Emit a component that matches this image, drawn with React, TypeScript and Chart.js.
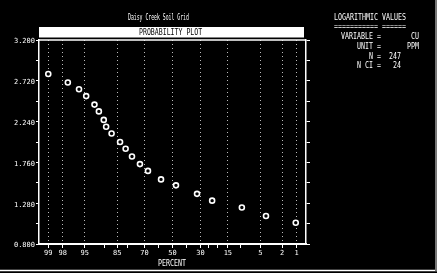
import React, { useEffect, useRef } from "react";
import { Chart, registerables } from "chart.js";

Chart.register(...registerables);

// ---- data ----
const cumulativePercent = [99.0, 97.5, 96.0, 94.7, 92.8, 91.6, 90.1, 89.3, 87.3, 83.7, 81.0, 77.6, 72.9, 67.7, 58.5, 47.4, 32.3, 22.9, 9.7, 4.0, 1.05];
const logValues = [2.8, 2.7, 2.62, 2.54, 2.44, 2.36, 2.26, 2.18, 2.1, 2.0, 1.92, 1.83, 1.74, 1.66, 1.56, 1.49, 1.39, 1.31, 1.23, 1.13, 1.05];

const percentTickLabels = [99, 98, 95, 85, 70, 50, 30, 15, 5, 2, 1];
const percentMinorTicks = [90, 80, 60, 40, 25, 20, 10];
const yTickValues = [0.8, 1.04, 1.28, 1.52, 1.76, 2.0, 2.24, 2.48, 2.72, 2.96, 3.2];
const yTickLabels = [0.8, 1.28, 1.76, 2.24, 2.72, 3.2];

const titleText = "Daisy Creek Soil Grid";
const bannerText = "PROBABILITY PLOT";
const xTitle = "PERCENT";

// inverse standard normal (probability scale transform)
function probit(p: number): number {
  const a = [-3.969683028665376e1, 2.209460984245205e2, -2.759285104469687e2, 1.38357751867269e2, -3.066479806614716e1, 2.506628277459239];
  const b = [-5.447609879822406e1, 1.615858368580409e2, -1.556989798598866e2, 6.680131188771972e1, -1.328068155288572e1];
  const c = [-7.784894002430293e-3, -3.223964580411365e-1, -2.400758277161838, -2.549732539343734, 4.374664141464968, 2.938163982698783];
  const d = [7.784695709041462e-3, 3.224671290700398e-1, 2.445134137142996, 3.754408661907416];
  const pl = 0.02425;
  const ph = 1 - pl;
  let q: number, r: number;
  if (p < pl) {
    q = Math.sqrt(-2 * Math.log(p));
    return (((((c[0] * q + c[1]) * q + c[2]) * q + c[3]) * q + c[4]) * q + c[5]) / ((((d[0] * q + d[1]) * q + d[2]) * q + d[3]) * q + 1);
  }
  if (p <= ph) {
    q = p - 0.5;
    r = q * q;
    return ((((((a[0] * r + a[1]) * r + a[2]) * r + a[3]) * r + a[4]) * r + a[5]) * q) / (((((b[0] * r + b[1]) * r + b[2]) * r + b[3]) * r + b[4]) * r + 1);
  }
  q = Math.sqrt(-2 * Math.log(1 - p));
  return -(((((c[0] * q + c[1]) * q + c[2]) * q + c[3]) * q + c[4]) * q + c[5]) / ((((d[0] * q + d[1]) * q + d[2]) * q + d[3]) * q + 1);
}

const MONO = '"DejaVu Sans Mono", "Liberation Mono", monospace';

function drawMono(ctx: CanvasRenderingContext2D, text: string, x: number, baseline: number, size: number, pitch: number, color: string) {
  ctx.save();
  ctx.font = `${size}px ${MONO}`;
  ctx.fillStyle = color;
  ctx.textAlign = "left";
  ctx.textBaseline = "alphabetic";
  const adv = ctx.measureText("M").width;
  ctx.translate(x, baseline);
  ctx.scale(pitch / adv, 1);
  ctx.fillText(text, 0, 0);
  ctx.restore();
}

const decorPlugin = {
  id: "decor",
  beforeDraw(chart: any) {
    const ctx = chart.ctx as CanvasRenderingContext2D;
    ctx.save();
    ctx.fillStyle = "#000";
    ctx.fillRect(0, 0, chart.width, chart.height);
    ctx.restore();
  },
  afterDraw(chart: any) {
    const ctx = chart.ctx as CanvasRenderingContext2D;
    const area = chart.chartArea;
    ctx.save();
    // banner
    ctx.fillStyle = "#fff";
    ctx.fillRect(area.left, 27, area.right - area.left - 2, 10.5);
    // top frame line
    ctx.strokeStyle = "#fff";
    ctx.lineWidth = 1.5;
    ctx.beginPath();
    ctx.moveTo(area.left, area.top);
    ctx.lineTo(area.right, area.top);
    ctx.stroke();
    // outer border bits
    ctx.beginPath();
    ctx.moveTo(0, 270.5);
    ctx.lineTo(chart.width, 270.5);
    ctx.stroke();
    ctx.strokeStyle = "#777";
    ctx.lineWidth = 2;
    ctx.beginPath();
    ctx.moveTo(436, 0);
    ctx.lineTo(436, 271);
    ctx.stroke();
    ctx.restore();

    drawMono(ctx, titleText, 128, 19.5, 9.5, 2.9, "#fff");
    drawMono(ctx, bannerText, 139, 34.5, 8.5, 3.95, "#000");
    drawMono(ctx, xTitle, 158, 266, 9, 4, "#fff");

    drawMono(ctx, "LOGARITHMIC VALUES", 334, 19.5, 9, 4, "#fff");
    drawMono(ctx, "=========== ======", 334, 28.5, 9, 4, "#fff");
    drawMono(ctx, "VARIABLE =", 341, 39, 9, 4, "#fff");
    drawMono(ctx, "CU", 411, 39, 9, 4, "#fff");
    drawMono(ctx, "UNIT =", 357, 48.5, 9, 4, "#fff");
    drawMono(ctx, "PPM", 407, 48.5, 9, 4, "#fff");
    drawMono(ctx, "N =", 369, 58.5, 9, 4, "#fff");
    drawMono(ctx, "247", 389, 58.5, 9, 4, "#fff");
    drawMono(ctx, "N CI =", 357, 67.5, 9, 4, "#fff");
    drawMono(ctx, "24", 393, 67.5, 9, 4, "#fff");
  },
};

export default function App() {
  const ref = useRef<HTMLCanvasElement>(null);
  useEffect(() => {
    document.body.style.margin = "0";
    document.body.style.background = "#000";
    const points = cumulativePercent.map((p, i) => ({ x: probit(p / 100), y: logValues[i] }));
    const xTicks = [...percentTickLabels, ...percentMinorTicks];
    const tickFont = { family: MONO, size: 7 };
    const chart = new Chart(ref.current as HTMLCanvasElement, {
      type: "scatter",
      data: {
        datasets: [
          {
            data: points,
            xAxisID: "x",
            yAxisID: "y",
            pointStyle: "circle",
            pointRadius: 2.5,
            pointBorderWidth: 1.6,
            pointBorderColor: "#fff",
            pointBackgroundColor: "#000",
            showLine: false,
          },
        ],
      },
      options: {
        animation: false,
        responsive: false,
        devicePixelRatio: 1,
        layout: { padding: { top: 40, left: 0, right: 0, bottom: 0 } },
        plugins: { legend: { display: false }, tooltip: { enabled: false }, title: { display: false } },
        scales: {
          x: {
            type: "linear",
            position: "bottom",
            min: -2.5,
            max: 2.5,
            reverse: true,
            afterBuildTicks: (s: any) => {
              s.ticks = xTicks.map((p) => ({ value: probit(p / 100) }));
            },
            afterFit: (s: any) => {
              s.height = 29;
            },
            ticks: {
              autoSkip: false,
              maxRotation: 0,
              minRotation: 0,
              padding: 1,
              color: "#fff",
              font: tickFont,
              callback: (_v: any, i: number) => (i < percentTickLabels.length ? String(percentTickLabels[i]) : ""),
            },
            grid: {
              color: (c: any) => (c.index !== undefined && c.index < percentTickLabels.length ? "#bbb" : "transparent"),
              tickColor: "#fff",
              tickLength: 4,
              lineWidth: 1,
            },
            border: { color: "#fff", width: 2, dash: [1, 3] },
          },
          y: {
            type: "linear",
            position: "left",
            min: 0.8,
            max: 3.2,
            afterBuildTicks: (s: any) => {
              s.ticks = yTickValues.map((v) => ({ value: v }));
            },
            afterFit: (s: any) => {
              s.width = 39;
            },
            ticks: {
              autoSkip: false,
              padding: 1,
              labelOffset: 1.5,
              color: "#fff",
              font: tickFont,
              callback: (v: any) => (yTickLabels.some((t) => Math.abs(t - v) < 1e-6) ? Number(v).toFixed(3) : ""),
            },
            grid: { drawOnChartArea: false, color: "#fff", tickColor: "#fff", tickLength: 3 },
            border: { color: "#fff", width: 1.5 },
          },
          y2: {
            type: "linear",
            position: "right",
            min: 0.8,
            max: 3.2,
            afterBuildTicks: (s: any) => {
              s.ticks = yTickValues.map((v) => ({ value: v }));
            },
            afterFit: (s: any) => {
              s.width = 131;
            },
            ticks: { autoSkip: false, callback: () => "" },
            grid: { drawOnChartArea: false, color: "#fff", tickColor: "#fff", tickLength: 4 },
            border: { color: "#fff", width: 1.5 },
          },
        },
      } as any,
      plugins: [decorPlugin],
    });
    return () => chart.destroy();
  }, []);
  return (
    <div style={{ width: 437, height: 273, background: "#000" }}>
      <canvas ref={ref} width={437} height={273} style={{ display: "block", width: 437, height: 273 }} />
    </div>
  );
}
